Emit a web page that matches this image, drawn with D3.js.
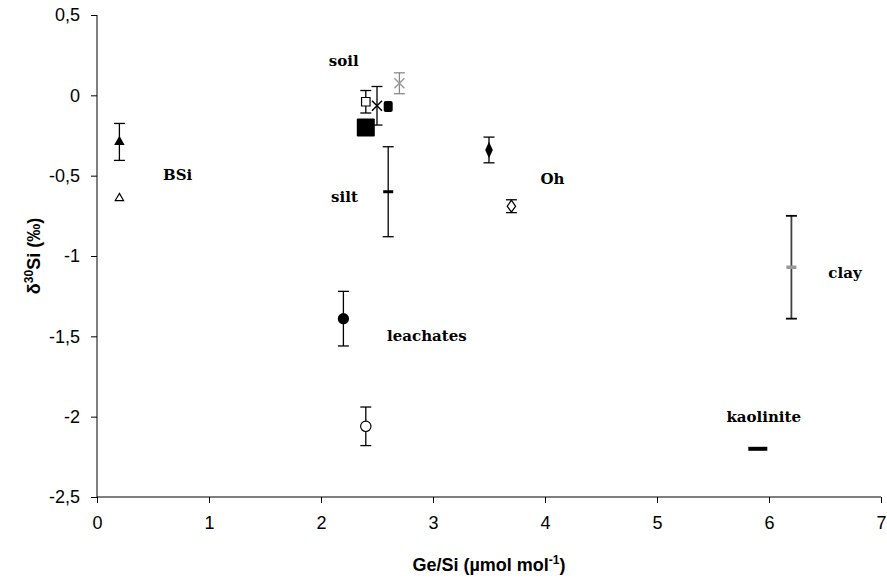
<!DOCTYPE html>
<html>
<head>
<meta charset="utf-8">
<script src="https://cdn.jsdelivr.net/npm/d3@7"></script>
<style>
  body { margin: 0; background: #fff; }
  .tick text { font-family: "Liberation Sans", Arial, sans-serif; font-size: 18px; fill: #000; }
  .lbl { font-family: "DejaVu Serif", serif; font-weight: bold; font-size: 15px; }
  .title { font-family: "Liberation Sans", Arial, sans-serif; font-weight: bold; font-size: 18px; }
</style>
</head>
<body>
<svg id="chart" width="887" height="578"></svg>
<script>
const width = 887;
const height = 578;
const margin = {top: 15, right: 6, bottom: 81, left: 97};

// points: Ge/Si, d30Si, error
const pointNames = ["BSi a", "BSi b", "soil a", "soil b", "soil c", "soil d", "soil e",
                    "silt", "Oh a", "Oh b", "clay", "leachates a", "leachates b", "kaolinite"];
const geSi   = [0.2, 0.2, 2.4, 2.5, 2.6, 2.7, 2.4, 2.6, 3.5, 3.7, 6.2, 2.2, 2.4, 5.9];
const d30Si  = [-0.29, -0.64, -0.04, -0.065, -0.07, 0.075, -0.2, -0.6, -0.34, -0.69, -1.07, -1.39, -2.06, -2.2];
const errors = [0.115, 0, 0.07, 0.12, 0, 0.065, 0, 0.28, 0.08, 0.04, 0.32, 0.17, 0.12, 0];
const shapes = ["triUp", "triOpen", "sqOpen", "x", "sqSmall", "xGray", "sqBig",
                "dash", "diamond", "diamondOpen", "dashGray", "circle", "circleOpen", "dashBig"];

// group labels
const labelText = ["soil", "BSi", "silt", "Oh", "clay", "leachates", "kaolinite"];
const labelX    = [2.07, 0.59, 2.09, 3.96, 6.53, 2.59, 5.62];
const labelY    = [0.18, -0.53, -0.665, -0.55, -1.135, -1.53, -2.035];

const xTicks = [0, 1, 2, 3, 4, 5, 6, 7];
const yTicks = [0.5, 0, -0.5, -1, -1.5, -2, -2.5];

const svg = d3.select("#chart");

const x = d3.scaleLinear().domain([0, 7]).range([margin.left, width - margin.right]);
const y = d3.scaleLinear().domain([-2.5, 0.5]).range([height - margin.bottom, margin.top]);

const fmt = d => String(d).replace(".", ",");

// axes
svg.append("g")
    .attr("transform", `translate(0,${y(-2.5)})`)
    .call(d3.axisBottom(x).tickValues(xTicks).tickSize(6).tickPadding(13).tickFormat(fmt))
    .call(g => g.selectAll("line, path").attr("stroke", "#000").attr("stroke-width", 1))
    .call(g => g.select(".domain").attr("d", `M${x(0)},0H${x(7)}`));

svg.append("g")
    .attr("transform", `translate(${x(0)},0)`)
    .call(d3.axisLeft(y).tickValues(yTicks).tickSize(6).tickPadding(11).tickFormat(fmt))
    .call(g => g.selectAll("line, path").attr("stroke", "#000").attr("stroke-width", 1))
    .call(g => g.select(".domain").attr("d", `M0,${y(0.5)}V${y(-2.5)}`));

// titles
const yt = svg.append("text").attr("class", "title")
    .attr("transform", `translate(40,${(y(0.5) + y(-2.5)) / 2}) rotate(-90)`)
    .attr("text-anchor", "middle");
yt.append("tspan").text("δ");
yt.append("tspan").attr("font-size", "12px").attr("dy", -7).text("30");
yt.append("tspan").attr("dy", 7).text("Si (‰)");

const xt = svg.append("text").attr("class", "title")
    .attr("x", (x(0) + x(7)) / 2).attr("y", 571)
    .attr("text-anchor", "middle");
xt.append("tspan").text("Ge/Si (µmol mol");
xt.append("tspan").attr("font-size", "12px").attr("dy", -7).text("-1");
xt.append("tspan").attr("dy", 7).text(")");

const data = pointNames.map((n, i) => ({name: n, x: geSi[i], y: d30Si[i], e: errors[i], shape: shapes[i]}));

// error bars
const eb = svg.append("g").selectAll("g")
  .data(data.filter(d => d.e > 0))
  .join("g")
    .attr("stroke", d => d.shape === "xGray" ? "#888" : d.shape === "dashGray" ? "#404040" : "#000")
    .attr("stroke-width", d => d.shape === "dashGray" ? 1.8 : 1.3);
eb.append("line")
    .attr("x1", d => x(d.x)).attr("x2", d => x(d.x))
    .attr("y1", d => y(d.y + d.e)).attr("y2", d => y(d.y - d.e));
eb.append("line")
    .attr("x1", d => x(d.x) - 5.5).attr("x2", d => x(d.x) + 5.5)
    .attr("y1", d => y(d.y + d.e)).attr("y2", d => y(d.y + d.e))
    .attr("stroke", d => d.shape === "dashGray" ? "#000" : null);
eb.append("line")
    .attr("x1", d => x(d.x) - 5.5).attr("x2", d => x(d.x) + 5.5)
    .attr("y1", d => y(d.y - d.e)).attr("y2", d => y(d.y - d.e))
    .attr("stroke", d => d.shape === "dashGray" ? "#000" : null);

// markers
const sym = {
  triUp:       {t: d3.symbolTriangle, s: 48, fill: "#000", stroke: "none"},
  triOpen:     {t: d3.symbolTriangle, s: 30, fill: "#fff", stroke: "#000"},
  sqOpen:      {t: d3.symbolSquare, s: 72, fill: "#fff", stroke: "#000"},
  diamond:     {t: d3.symbolDiamond, s: 70, fill: "#000", stroke: "none"},
  diamondOpen: {t: d3.symbolDiamond, s: 50, fill: "#fff", stroke: "#000"},
  circle:      {t: d3.symbolCircle, s: 100, fill: "#000", stroke: "none"},
  circleOpen:  {t: d3.symbolCircle, s: 85, fill: "#fff", stroke: "#000"}
};

const mk = svg.append("g").selectAll("g")
  .data(data)
  .join("g")
    .attr("transform", d => `translate(${x(d.x)},${y(d.y)})`);

mk.filter(d => sym[d.shape])
  .append("path")
    .attr("d", d => d3.symbol(sym[d.shape].t, sym[d.shape].s)())
    .attr("transform", d => d.shape === "diamond" ? "scale(0.85,1.05)" : d.shape === "diamondOpen" ? "scale(1.1,0.9)" : null)
    .attr("fill", d => sym[d.shape].fill)
    .attr("stroke", d => sym[d.shape].stroke)
    .attr("stroke-width", 1.2);

// X markers
mk.filter(d => d.shape === "x" || d.shape === "xGray")
  .append("path")
    .attr("d", "M-5,-5L5,5M-5,5L5,-5")
    .attr("stroke", d => d.shape === "xGray" ? "#999" : "#000")
    .attr("stroke-width", 1.5)
    .attr("fill", "none");

// squares drawn as rects
const rectSize = {sqSmall: [9, 11, 2], sqBig: [18, 18, 1]};
mk.filter(d => rectSize[d.shape])
  .append("rect")
    .attr("x", d => -rectSize[d.shape][0] / 2).attr("y", d => -rectSize[d.shape][1] / 2)
    .attr("width", d => rectSize[d.shape][0]).attr("height", d => rectSize[d.shape][1])
    .attr("rx", d => rectSize[d.shape][2])
    .attr("fill", "#000");

// dashes
const dashSize = {dash: [10, 3, "#000"], dashGray: [10, 3.5, "#999"], dashBig: [19, 4, "#000"]};
mk.filter(d => dashSize[d.shape])
  .append("rect")
    .attr("x", d => -dashSize[d.shape][0] / 2).attr("y", d => -dashSize[d.shape][1] / 2)
    .attr("width", d => dashSize[d.shape][0]).attr("height", d => dashSize[d.shape][1])
    .attr("fill", d => dashSize[d.shape][2]);

// group labels
svg.append("g").selectAll("text")
  .data(labelText)
  .join("text")
    .attr("class", "lbl")
    .attr("x", (d, i) => x(labelX[i]))
    .attr("y", (d, i) => y(labelY[i]))
    .text(d => d);
</script>
</body>
</html>
